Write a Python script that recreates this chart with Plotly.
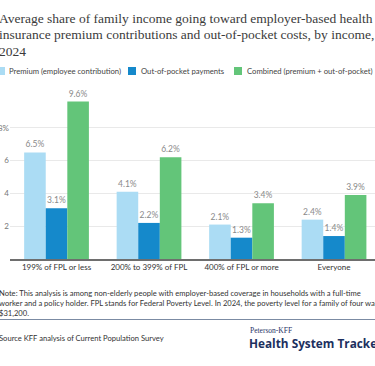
import plotly.graph_objects as go

categories = ["199% of FPL or less", "200% to 399% of FPL", "400% of FPL or more", "Everyone"]
premium = [6.5, 4.1, 2.1, 2.4]
out_of_pocket = [3.1, 2.2, 1.3, 1.4]
combined = [9.6, 6.2, 3.4, 3.9]
series_names = ["Premium (employee contribution)", "Out-of-pocket payments", "Combined (premium + out-of-pocket)"]
colors = ["#abdcf4", "#1589cb", "#63c579"]
tick_vals = [0, 2, 4, 6, 8]
tick_text = ["", "2", "4", "6", "8%"]

W, H = 375, 366
ML, MR, MT, MB = 10, 0, 95, 107
PW = W - ML - MR
PH = H - MT - MB

def px_x(p):
    return (p - ML) / PW

def px_y(p):
    return (H - MB - p) / PH

SANS = "Lato"

fig = go.Figure()
for name, vals, col in zip(series_names, [premium, out_of_pocket, combined], colors):
    fig.add_trace(go.Bar(
        x=categories, y=vals, name=name, marker_color=col, marker_line_width=0,
        text=[f"{v:.1f}%" for v in vals], textposition="outside",
        textfont=dict(family=SANS, size=8.5, color="#8a8a8a"),
        cliponaxis=False, showlegend=False,
    ))

annotations = []
title_lines = [
    "Average share of family income going toward employer-based health",
    "insurance premium contributions and out-of-pocket costs, by income,",
    "2024",
]
for i, line in enumerate(title_lines):
    annotations.append(dict(
        text=line, xref="paper", yref="paper", x=px_x(-3), y=px_y(18 + i * 16.5),
        xanchor="left", yanchor="middle", showarrow=False,
        font=dict(family="Liberation Serif", size=13.5, color="#3b3b3b"),
    ))

# legend
legend_pos = [(-3, 7), (128, 139), (234, 245)]
shapes = []
for (sx, tx), name, col in zip(legend_pos, series_names, colors):
    shapes.append(dict(type="rect", xref="paper", yref="paper",
                       x0=px_x(sx), x1=px_x(sx + 8), y0=px_y(75), y1=px_y(67),
                       fillcolor=col, line_width=0))
    annotations.append(dict(
        text=name, xref="paper", yref="paper", x=px_x(tx), y=px_y(71),
        xanchor="left", yanchor="middle", showarrow=False,
        font=dict(family=SANS, size=7.7, color="#444444"),
    ))

note_lines = [
    "Note: This analysis is among non-elderly people with employer-based coverage in households with a full-time",
    "worker and a policy holder. FPL stands for Federal Poverty Level. In 2024, the poverty level for a family of four was",
    "$31,200.",
]
for i, line in enumerate(note_lines):
    annotations.append(dict(
        text=line.replace("$", "&#36;"), xref="paper", yref="paper", x=px_x(-3), y=px_y(293 + i * 10),
        xanchor="left", yanchor="middle", showarrow=False,
        font=dict(family=SANS, size=7.6, color="#333333"),
    ))

shapes.append(dict(type="line", xref="paper", yref="paper", x0=px_x(0), x1=px_x(375),
                   y0=px_y(319.5), y1=px_y(319.5), line=dict(color="#7b8ba3", width=1)))

annotations.append(dict(
    text="Source KFF analysis of Current Population Survey", xref="paper", yref="paper",
    x=px_x(-3), y=px_y(338), xanchor="left", yanchor="middle", showarrow=False,
    font=dict(family=SANS, size=7.6, color="#333333"),
))
annotations.append(dict(
    text="Peterson-KFF", xref="paper", yref="paper",
    x=px_x(248), y=px_y(330), xanchor="left", yanchor="middle", showarrow=False,
    font=dict(family="Liberation Serif", size=7.5, color="#1f3266"),
))
annotations.append(dict(
    text="<b>Health System Tracker</b>", xref="paper", yref="paper",
    x=px_x(247), y=px_y(343), xanchor="left", yanchor="middle", showarrow=False,
    font=dict(family="Open Sans", size=11.8, color="#1c2f5e"),
))

fig.update_layout(
    width=W, height=H, margin=dict(l=ML, r=MR, t=MT, b=MB, autoexpand=False),
    paper_bgcolor="white", plot_bgcolor="white",
    barmode="group", bargap=0.3, bargroupgap=0,
    annotations=annotations, shapes=shapes,
    xaxis=dict(range=[-0.503, 3.443], showgrid=False, showline=True, linecolor="#6e6e6e",
               linewidth=1.5, ticks="", tickfont=dict(family=SANS, size=8, color="#333333"),
               automargin=False, fixedrange=True),
    yaxis=dict(range=[0, 10], tickvals=tick_vals, ticktext=tick_text, showgrid=True,
               gridcolor="#e9e9e9", gridwidth=1, zeroline=False, showline=False, ticks="",
               tickfont=dict(family=SANS, size=8, color="#777777"), automargin=False,
               fixedrange=True),
)

fig.write_html("out.html", config={"displayModeBar": False},
               post_script="document.body.style.margin='0';document.body.style.overflow='hidden';")
